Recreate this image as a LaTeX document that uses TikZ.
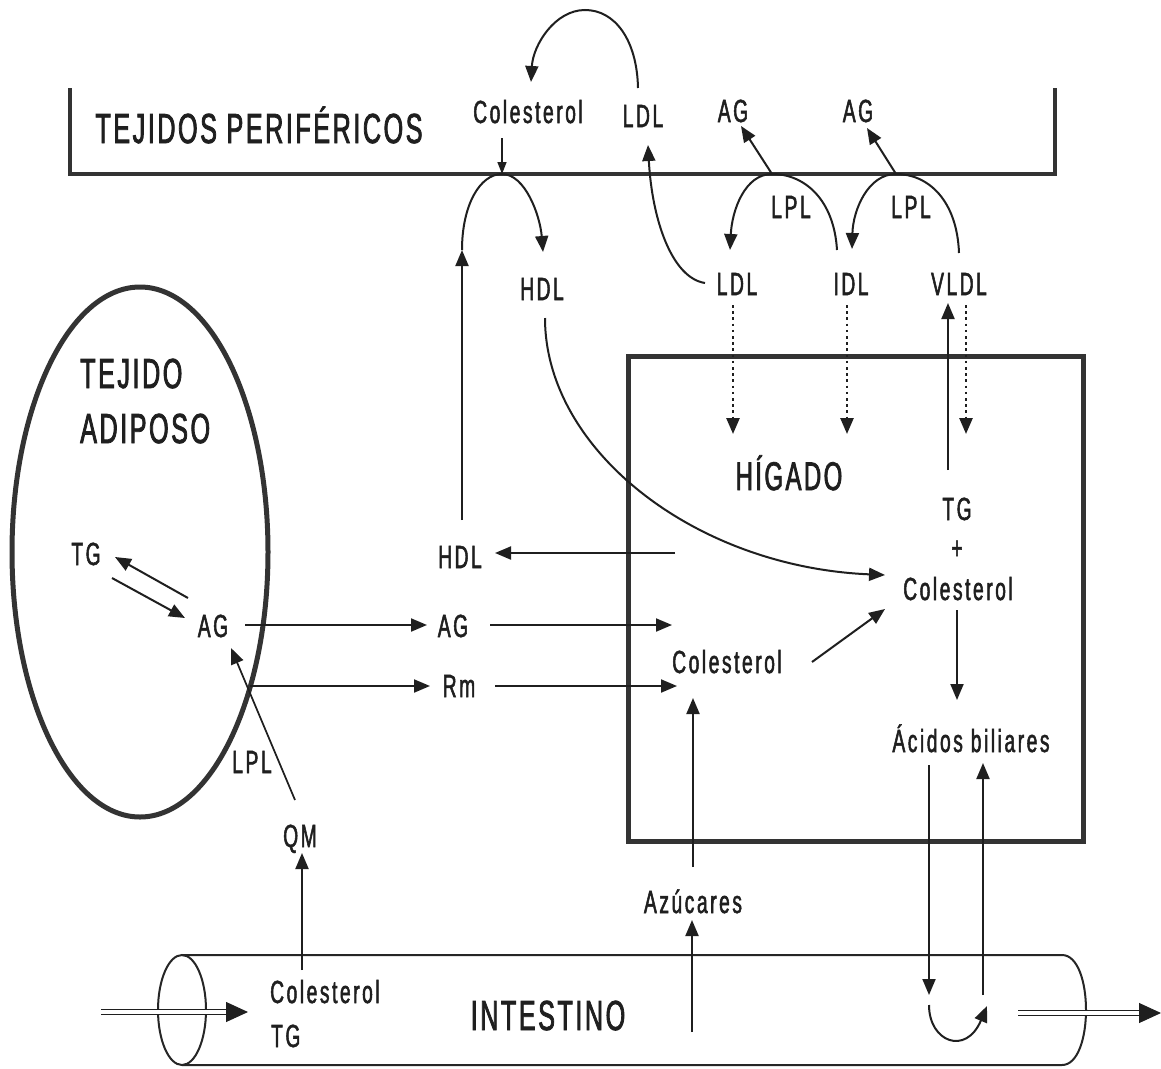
\documentclass[tikz,border=0pt]{standalone}
\usepackage{fontspec}
\setmainfont[FakeStretch=0.6,LetterSpace=8,FakeBold=1.6]{Liberation Sans}
\newfontfamily\titlefont[FakeStretch=0.6,LetterSpace=6,FakeBold=1.8]{Liberation Sans}
\usetikzlibrary{arrows.meta}
\begin{document}
\begin{tikzpicture}[x=1pt,y=-1pt,
  lbl/.style={font=\fontsize{32}{36}\selectfont, inner sep=0pt, text=black!88, anchor=base},
  ttl/.style={font=\titlefont\fontsize{42}{46}\selectfont, inner sep=0pt, text=black!88, anchor=base},
  ln/.style={line width=2pt, draw=black!88},
  arr/.style={ln, -{Triangle[length=16pt,width=13pt]}},
  smallarr/.style={ln, line width=1.5pt, -{Triangle[length=12pt,width=9pt]}},
  wall/.style={line width=5pt, draw=black!80},
  tube/.style={line width=2pt, draw=black!85},
  dotarr/.style={line width=2.6pt, draw=black!88, dash pattern=on 2.6pt off 3.6pt, -{Triangle[length=16pt,width=13pt]}},
  dblline/.style={double=white, double distance=3.2pt, line width=1.6pt, draw=black!88},
  bigtip/.style={line width=1pt, draw=black!88, fill=black!88, -{Triangle[length=22pt,width=20pt]}}
]
\useasboundingbox (0,0) rectangle (1161,1068);
\fill[white] (0,0) rectangle (1161,1068);

% ---------- shapes ----------
\draw[wall, line width=4pt] (70,88) -- (70,174) -- (1055,174) -- (1055,88);
\draw[wall] (140,552) ellipse [x radius=128pt, y radius=265pt];
\draw[wall] (628,356) rectangle (1083,841);
% intestine
\draw[tube] (182,1010) ellipse [x radius=24pt, y radius=55pt];
\draw[tube] (182,955) -- (1062,955) .. controls (1094,955) and (1094,1065) .. (1062,1065) -- (182,1065);

% ---------- text ----------
\node[ttl] (tp) at (259,143) {TEJIDOS PERIFÉRICOS};
\node[ttl, anchor=base west] (tej) at (80,388) {TEJIDO};
\node[ttl, anchor=base west] (adi) at (80,443) {ADIPOSO};
\node[ttl, font=\titlefont\fontsize{40}{44}\selectfont] (hig) at (789,490) {HÍGADO};
\node[ttl] (int) at (548,1030) {INTESTINO};

\node[lbl] (colt) at (528,123) {Colesterol};
\node[lbl] (ldlt) at (643,127) {LDL};
\node[lbl] (agt1) at (733,122) {AG};
\node[lbl] (agt2) at (858,122) {AG};
\node[lbl] (lpl1) at (791,218) {LPL};
\node[lbl] (lpl2) at (911,218) {LPL};
\node[lbl] (hdlu) at (542,300) {HDL};
\node[lbl] (ldll) at (737,295) {LDL};
\node[lbl] (idl) at (851,295) {IDL};
\node[lbl] (vldl) at (959,295) {VLDL};

\node[lbl] (tga) at (86,565) {TG};
\node[lbl] (aga) at (213,637) {AG};
\node[lbl] (lpla) at (252,773) {LPL};
\node[lbl] (qm) at (300,847) {QM};
\node[lbl] (hdlm) at (460,568) {HDL};
\node[lbl] (agm) at (453,637) {AG};
\node[lbl] (rm) at (459,697) {Rm};

\node[lbl] (tgh) at (957,520) {TG};
\node[lbl] (plus) at (957,559) {+};
\node[lbl] (colh) at (958,600) {Colesterol};
\node[lbl] (coli) at (727,673) {Colesterol};
\node[lbl] (acid) at (971,752) {Ácidos biliares};
\node[lbl] (azu) at (693,913) {Azúcares};
\node[lbl, anchor=base west] (colin) at (270,1003) {Colesterol};
\node[lbl, anchor=base west] (tgin) at (271,1047) {TG};

% ---------- coordinates ----------
\coordinate (pk0) at (502,174);
\coordinate (pk1) at (772,174);
\coordinate (pk2) at (896,174);
\coordinate (inL) at (101,1012);
\coordinate (inT) at (228,1012);
\coordinate (inR) at (248,1012);
\coordinate (outL) at (1018,1013);
\coordinate (outT) at (1140,1013);
\coordinate (outR) at (1161,1013);

% ---------- connectors (top) ----------
\draw[arr] (638,88) .. controls (637,40) and (615,10) .. (585,10)
           .. controls (555,10) and (533,45) .. (531,82);
\draw[smallarr] (502,138) -- (pk0);
\draw[arr] (462,250) .. controls (462,205) and (480,174) .. (pk0)
           .. controls (525,174) and (540,215) .. (543,252);
\draw[arr] (462,520) -- (462,250);
\draw[arr] (705,283) .. controls (672,278) and (652,220) .. (648,145);
\draw[arr] (837,250) .. controls (834,200) and (805,174) .. (pk1)
           .. controls (745,174) and (732,210) .. (730,250);
\draw[arr] (pk1) -- (741,126);
\draw[arr] (959,253) .. controls (957,200) and (928,174) .. (pk2)
           .. controls (868,174) and (853,210) .. (852,249);
\draw[arr] (pk2) -- (867,128);

% dotted into liver
\draw[dotarr] (733,305) -- (733,434);
\draw[dotarr] (847,305) -- (847,434);
\draw[dotarr] (966,305) -- (966,434);
\draw[arr] (948,470) -- (948,303);

% HDL curve
\draw[arr] (545,318) .. controls (545,450) and (695,567) .. (885,575);

% middle
\draw[arr] (675,553) -- (495,553);
\draw[arr] (245,625) -- (427,625);
\draw[arr] (250,686) -- (430,686);
\draw[arr] (490,625) -- (672,625);
\draw[arr] (495,686) -- (677,686);
\draw[arr] (812,662) -- (885,609);
\draw[arr] (957,610) -- (957,700);
\draw[arr] (693,867) -- (693,698);
\draw[arr] (692,1032) -- (692,920);
\draw[arr] (302,970) -- (302,853);
\draw[arr, line width=1.7pt] (295,800) -- (231,648);
\draw[arr] (188,598) -- (115,557);
\draw[arr] (112,578) -- (185,618);

% bile acids
\draw[arr] (929,765) -- (929,995);
\draw[arr] (983,995) -- (983,763);
\draw[arr] (929,1005) .. controls (929,1042) and (966,1056) .. (987,1006);

% intestine flow
\draw[dblline] (inL) -- (inT);
\draw[bigtip] (inT) -- (inR);
\draw[dblline] (outL) -- (outT);
\draw[bigtip] (outT) -- (outR);
\end{tikzpicture}
\end{document}
